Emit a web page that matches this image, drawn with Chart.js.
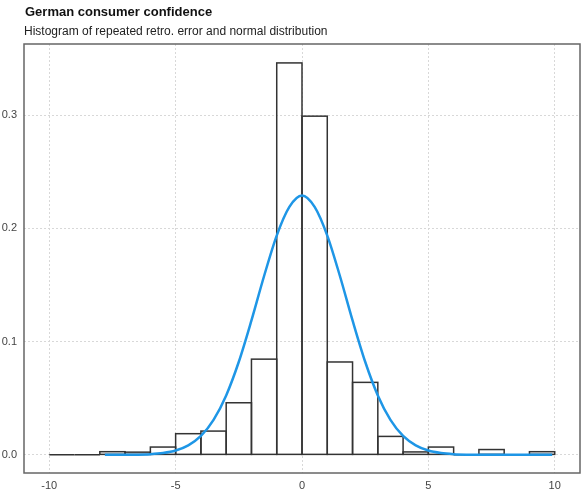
<!DOCTYPE html>
<html>
<head>
<meta charset="utf-8">
<script src="https://cdn.jsdelivr.net/npm/chart.js@4.4.1/dist/chart.umd.min.js"></script>
<style>
  html, body { margin: 0; padding: 0; background: #fff; }
  #wrap { position: relative; width: 581px; height: 492px; font-family: "Liberation Sans", Arial, sans-serif; }
  #title { position: absolute; left: 25px; top: 4px; font-size: 13px; font-weight: bold; color: #111; }
  #subtitle { position: absolute; left: 24px; top: 24px; font-size: 12px; color: #222; }
  canvas { position: absolute; left: 0; top: 0; }
</style>
</head>
<body>
<div id="wrap">
  <canvas id="chart" width="581" height="492"></canvas>
  <div id="title">German consumer confidence</div>
  <div id="subtitle">Histogram of repeated retro. error and normal distribution</div>
</div>
<script>
// histogram bins (left edges, width 1) and densities
var binStarts = [-10, -9, -8, -7, -6, -5, -4, -3, -2, -1, 0, 1, 2, 3, 4, 5, 6, 7, 8, 9];
var density   = [0, 0, 0.0028, 0.0024, 0.0069, 0.0187, 0.021, 0.046, 0.0845, 0.346, 0.299,
                 0.082, 0.064, 0.0163, 0.0026, 0.0069, 0, 0.0047, 0, 0.0028];

// normal curve
var curveX = [-7.8, -7, -6.5, -6, -5.5, -5, -4.5, -4, -3.5, -3, -2.5, -2, -1.5, -1, -0.5, 0,
              0.5, 1, 1.5, 2, 2.5, 3, 3.5, 4, 4.5, 5, 5.5, 6, 6.5, 7, 8, 9, 9.9];
var curveY = [0, 0.0001, 0.0002, 0.0006, 0.0016, 0.0038, 0.0084, 0.0167, 0.0309, 0.0525, 0.0822,
              0.1187, 0.1579, 0.1936, 0.2189, 0.229, 0.2189, 0.1936, 0.1579, 0.1187, 0.0822,
              0.0525, 0.0309, 0.0167, 0.0084, 0.0038, 0.0016, 0.0006, 0.0002, 0.0001, 0, 0, 0];

var xTicks = [-10, -5, 0, 5, 10];
var yTicks = [0, 0.1, 0.2, 0.3];

var bars = binStarts.map(function (b, i) { return { x: b + 0.5, y: density[i] }; });
var curve = curveX.map(function (x, i) { return { x: x, y: curveY[i] }; });

// outline each bar once so shared edges stay a single line
var barOutline = {
    id: 'barOutline',
    afterDatasetDraw: function (chart, args) {
        if (args.meta.type !== 'bar') return;
        var ctx = chart.ctx;
        ctx.save();
        ctx.strokeStyle = '#333';
        ctx.lineWidth = 1.5;
        args.meta.data.forEach(function (el) {
            var p = el.getProps(['x', 'y', 'base', 'width'], true);
            ctx.strokeRect(p.x - p.width / 2, p.y, p.width, p.base - p.y);
        });
        ctx.restore();
    }
};

var frame = {
    id: 'frame',
    afterDraw: function (chart) {
        var a = chart.chartArea, ctx = chart.ctx;
        ctx.save();
        ctx.strokeStyle = '#666';
        ctx.lineWidth = 1.5;
        ctx.strokeRect(a.left, a.top, a.right - a.left, a.bottom - a.top);
        ctx.restore();
    }
};

new Chart(document.getElementById('chart'), {
    type: 'bar',
    data: {
        datasets: [{
            type: 'line',
            data: curve,
            borderColor: '#1e96e6',
            borderWidth: 2.5,
            pointRadius: 0,
            cubicInterpolationMode: 'monotone',
            fill: false,
            order: 0
        }, {
            data: bars,
            backgroundColor: 'rgba(255,255,255,0)',
            borderWidth: 0,
            barPercentage: 1,
            categoryPercentage: 1,
            order: 1
        }]
    },
    options: {
        responsive: false,
        animation: false,
        layout: { padding: { top: 44, right: 1, left: 0, bottom: 0 } },
        plugins: { legend: { display: false }, tooltip: { enabled: false } },
        scales: {
            x: {
                type: 'linear',
                min: -11,
                max: 11,
                offset: false,
                afterBuildTicks: function (s) { s.ticks = xTicks.map(function (v) { return { value: v }; }); },
                afterFit: function (s) { s.height = 19; },
                grid: { offset: false, color: '#d8d8d8', drawTicks: false, tickLength: 0 },
                border: { display: false, dash: [2, 2] },
                ticks: { padding: 6, color: '#444', font: { family: 'Liberation Sans', size: 11 } }
            },
            y: {
                min: -0.016,
                max: 0.3627,
                afterBuildTicks: function (s) { s.ticks = yTicks.map(function (v) { return { value: v }; }); },
                afterFit: function (s) { s.width = 24; },
                grid: { color: '#d8d8d8', drawTicks: false, tickLength: 0 },
                border: { display: false, dash: [2, 2] },
                ticks: {
                    padding: 7,
                    color: '#444',
                    font: { family: 'Liberation Sans', size: 11 },
                    callback: function (v) { return v.toFixed(1); }
                }
            }
        }
    },
    plugins: [barOutline, frame]
});
</script>
</body>
</html>
